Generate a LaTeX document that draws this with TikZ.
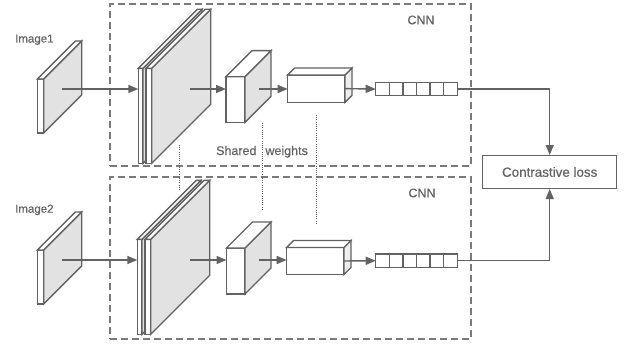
\documentclass[tikz,border=0pt]{standalone}
\usepackage{fontspec}
\setmainfont{Liberation Sans}[FakeBold=0.6]
\usetikzlibrary{arrows.meta}
\definecolor{edgecol}{HTML}{626262}
\definecolor{dashcol}{HTML}{7A7A7A}
\definecolor{txtcol}{HTML}{646464}
\definecolor{sidegray}{HTML}{E2E2E2}
\definecolor{lightside}{HTML}{EDEDED}
\tikzset{
  edge/.style={draw=edgecol, line width=1.4pt, line join=miter},
  face/.style={edge, inner sep=0pt, outer sep=0pt},
  arr/.style={draw=edgecol, line width=1.4pt, -{Triangle[length=10pt,width=8pt]}},
  dashbox/.style={draw=dashcol, line width=1.1pt, dash pattern=on 7pt off 4pt, inner sep=0pt, outer sep=0pt, anchor=north west},
  dotline/.style={draw=edgecol, line width=0.9pt, dash pattern=on 1pt off 1.2pt},
  lbl/.style={text=txtcol, inner sep=0pt, font=\fontsize{12}{14}\selectfont},
  lossbox/.style={edge, fill=white, minimum width=134pt, minimum height=32.6pt, inner sep=0pt,
    text=txtcol, font=\fontsize{13.4}{15}\selectfont},
  vecbox/.style={face, fill=white, minimum width=81.6pt, minimum height=13.4pt, anchor=north west}
}
% #1 name, #2 x, #3 y (top-left of front face), #4 width, #5 height, #6 depth, #7 side fill
\newcommand{\mycuboid}[7]{%
  \node[face, fill=white, minimum width=#4pt, minimum height=#5pt, anchor=north west] (#1) at (#2,#3) {};
  \draw[edge, fill=#7] (#1.north east) -- ++(#6,-#6) -- ++(0,#5) -- (#1.south east) -- cycle;
  \draw[edge, fill=white] (#1.north west) -- ++(#6,-#6) -- ++(#4,0) -- (#1.north east) -- cycle;
}
\begin{document}
\begin{tikzpicture}[x=1pt,y=-1pt]
\useasboundingbox (0,0) rectangle (626,345);
% dashed CNN boxes
\node[dashbox, minimum width=361pt, minimum height=162pt] (cnn1) at (110,4) {};
\node[dashbox, minimum width=361pt, minimum height=162pt] (cnn2) at (110,177) {};
\node[lbl, font=\fontsize{12.5}{14}\selectfont] (cnnlab1) at (421,20) {CNN};
\node[lbl, font=\fontsize{12.5}{14}\selectfont] (cnnlab2) at (422,193) {CNN};
% labels
\node[lbl, anchor=base west, font=\fontsize{11.5}{14}\selectfont] (im1lab) at (15,42.5) {Image1};
\node[lbl, anchor=base west, font=\fontsize{11.5}{14}\selectfont] (im2lab) at (15,212.7) {Image2};
% top branch
\mycuboid{img1}{37.3}{79}{6.4}{54}{38}{sidegray}
\mycuboid{c1a}{138.3}{68.3}{4.7}{95}{59}{sidegray}
\mycuboid{c1b}{146}{68.3}{5.7}{95}{59}{sidegray}
\mycuboid{p1}{226}{76.7}{19}{45.6}{26}{sidegray}
\mycuboid{f1}{287.7}{75}{57.3}{27.3}{7}{lightside}
\node[vecbox] (v1) at (375.7,82.3) {};
\foreach \i in {1,...,5} \draw[edge] (v1.north west) ++(13.6*\i,0) -- ++(0,13.4);
% bottom branch
\mycuboid{img2}{37.3}{250}{6.4}{54}{38}{sidegray}
\mycuboid{c2a}{137.3}{239.3}{4.7}{95}{59}{sidegray}
\mycuboid{c2b}{145}{239.3}{5.7}{95}{59}{sidegray}
\mycuboid{p2}{226.5}{248}{18.5}{46}{26}{sidegray}
\mycuboid{f2}{286.7}{247.5}{57.3}{27}{7}{lightside}
\node[vecbox] (v2) at (375.7,254) {};
\foreach \i in {1,...,5} \draw[edge] (v2.north west) ++(13.6*\i,0) -- ++(0,13.4);
% loss
\node[lossbox] (loss) at (549.7,172) {Contrastive loss};
% arrows top
\coordinate (a1) at (61.7,89);
\coordinate (a2) at (190,89);
\coordinate (a3) at (259,89);
\draw[arr] (a1) -- (a1 -| c1a.west);
\draw[arr] (a2) -- (a2 -| p1.west);
\draw[arr] (a3) -- (a3 -| f1.west);
\draw[arr] (f1.east) -- (v1.west);
\draw[arr] (v1.east) -- (v1.east -| loss.north) -- (loss.north);
% arrows bottom
\coordinate (b1) at (61.7,260);
\coordinate (b2) at (190,260);
\coordinate (b3) at (259,260);
\draw[arr] (b1) -- (b1 -| c2a.west);
\draw[arr] (b2) -- (b2 -| p2.west);
\draw[arr] (b3) -- (b3 -| f2.west);
\draw[arr] (f2.east) -- (v2.west);
\draw[arr] (v2.east) -- (v2.east -| loss.south) -- (loss.south);
% shared weights
\draw[dotline] (179.3,145) -- (179.3,190);
\draw[dotline] (262,123) -- (262,210);
\draw[dotline] (316.7,115) -- (316.7,223);
\node[lbl, anchor=base, font=\fontsize{12.5}{14}\selectfont] (shared) at (262,155) {Shared\hspace{9pt}weights};
\end{tikzpicture}
\end{document}
